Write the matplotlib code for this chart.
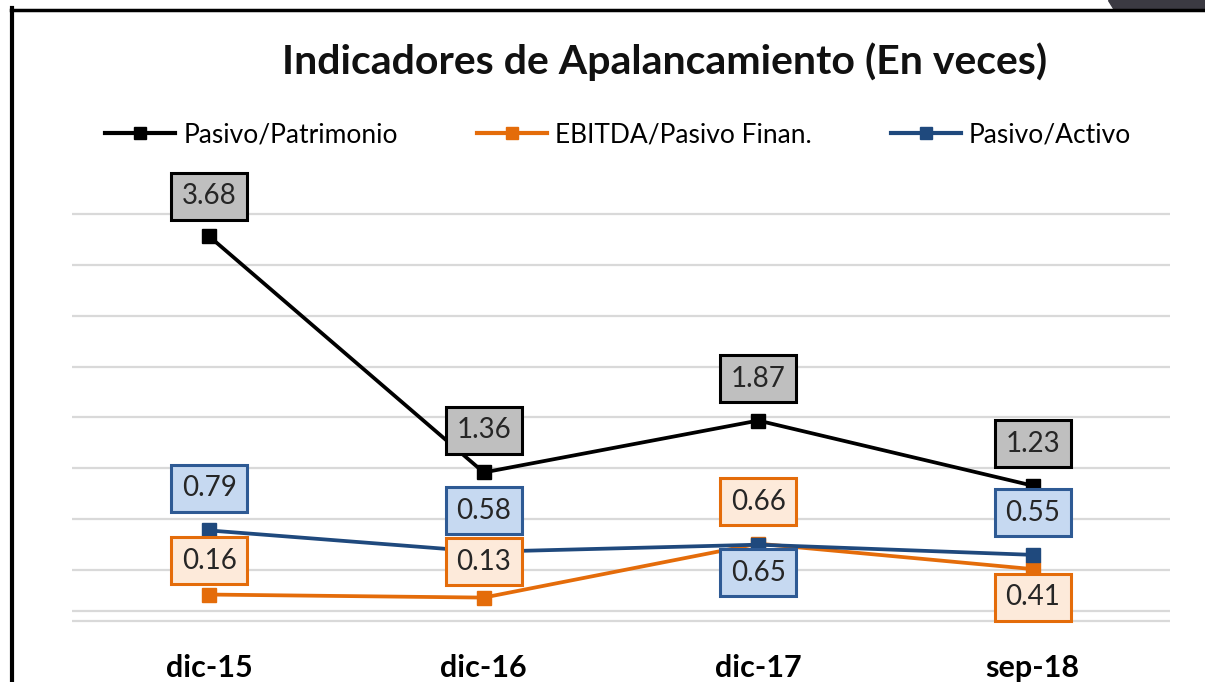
import matplotlib.pyplot as plt
import numpy as np
from matplotlib.lines import Line2D
from matplotlib.patches import Polygon

plt.rcParams["font.family"] = ["Lato", "DejaVu Sans"]

categories = ["dic-15", "dic-16", "dic-17", "sep-18"]
pasivo_patrimonio = [3.68, 1.36, 1.87, 1.23]
ebitda_pasivo_fin = [0.16, 0.13, 0.66, 0.41]
pasivo_activo = [0.79, 0.58, 0.65, 0.55]
series_names = ["Pasivo/Patrimonio", "EBITDA/Pasivo Finan.", "Pasivo/Activo"]
title = "Indicadores de Apalancamiento (En veces)"

# styling per series: line colour, box face, box edge, label offsets (pixels)
styles = [
    ("black", "#BFBFBF", "black", [40, 42, 42, 42]),
    ("#E46C0A", "#FDEADA", "#E46C0A", [34, 36, 42, -28]),
    ("#1F497D", "#C6D9F1", "#2E5A94", [42, 41, -28, 42]),
]

W, H = 1205, 682
fig = plt.figure(figsize=(W / 100, H / 100), dpi=100)

# axes: y -0.1 at px 621, 3.9 at px 214 (pad 0.02 units each side)
ppu = 407 / 4.0
y_lo, y_hi = -0.12, 3.92
top_px = 214 - 0.02 * ppu
bot_px = 621 + 0.02 * ppu
ax = fig.add_axes([72 / W, 1 - bot_px / H, (1170 - 72) / W, (bot_px - top_px) / H])
ax.set_ylim(y_lo, y_hi)
ax.set_xlim(-0.5, len(categories) - 0.5)

for g in np.arange(-0.1, 3.95, 0.5):
    ax.axhline(g, color="#D9D9D9", lw=1.6, zorder=1)
ax.axhline(0, color="#D9D9D9", lw=1.6, zorder=1)

x = np.arange(len(categories))
all_series = [pasivo_patrimonio, ebitda_pasivo_fin, pasivo_activo]
for vals, name, (lc, fc, ec, offs) in zip(all_series, series_names, styles):
    ax.plot(x, vals, color=lc, lw=2.7, marker="s", markersize=10.5,
            markeredgecolor=lc, markerfacecolor=lc, zorder=3, label=name)

for vals, (lc, fc, ec, offs) in zip(all_series, styles):
    for xi, v, off in zip(x, vals, offs):
        ax.annotate(f"{v:.2f}", (xi, v), xytext=(0, off), textcoords="offset pixels",
                    ha="center", va="center", fontsize=20, color="#262626", zorder=5,
                    bbox=dict(boxstyle="square,pad=0.38", fc=fc, ec=ec, lw=2.2))

ax.set_yticks([])
ax.set_xticks(x)
ax.set_xticklabels(categories, fontsize=22, fontweight="bold")
ax.tick_params(axis="x", length=0, pad=22)
for s in ax.spines.values():
    s.set_visible(False)

fig.text(665 / W, 1 - 62 / H, title, ha="center", va="center",
         fontsize=29.5, fontweight="bold", color="#111111")

handles = [Line2D([], [], color=st[0], lw=3, marker="s", markersize=9) for st in styles]
fig.legend(handles, series_names, loc="center", bbox_to_anchor=(618 / W, 1 - 135 / H),
           ncol=3, frameon=False, fontsize=19, handlelength=2.65, handletextpad=0.3,
           columnspacing=3.0)

# screenshot frame
fig.add_artist(Line2D([12 / W, 12 / W], [0, 1 - 8 / H], color="black", lw=3, transform=fig.transFigure))
fig.add_artist(Line2D([10.5 / W, 1], [1 - 9.5 / H, 1 - 9.5 / H], color="black", lw=2.5, transform=fig.transFigure))
fig.add_artist(Polygon([[1108 / W, 1], [1205 / W, 1], [1205 / W, 1 - 8 / H], [1113 / W, 1 - 8 / H]],
                       closed=True, color="#3B3A42", transform=fig.transFigure))

fig.savefig("out.png", dpi=100)
